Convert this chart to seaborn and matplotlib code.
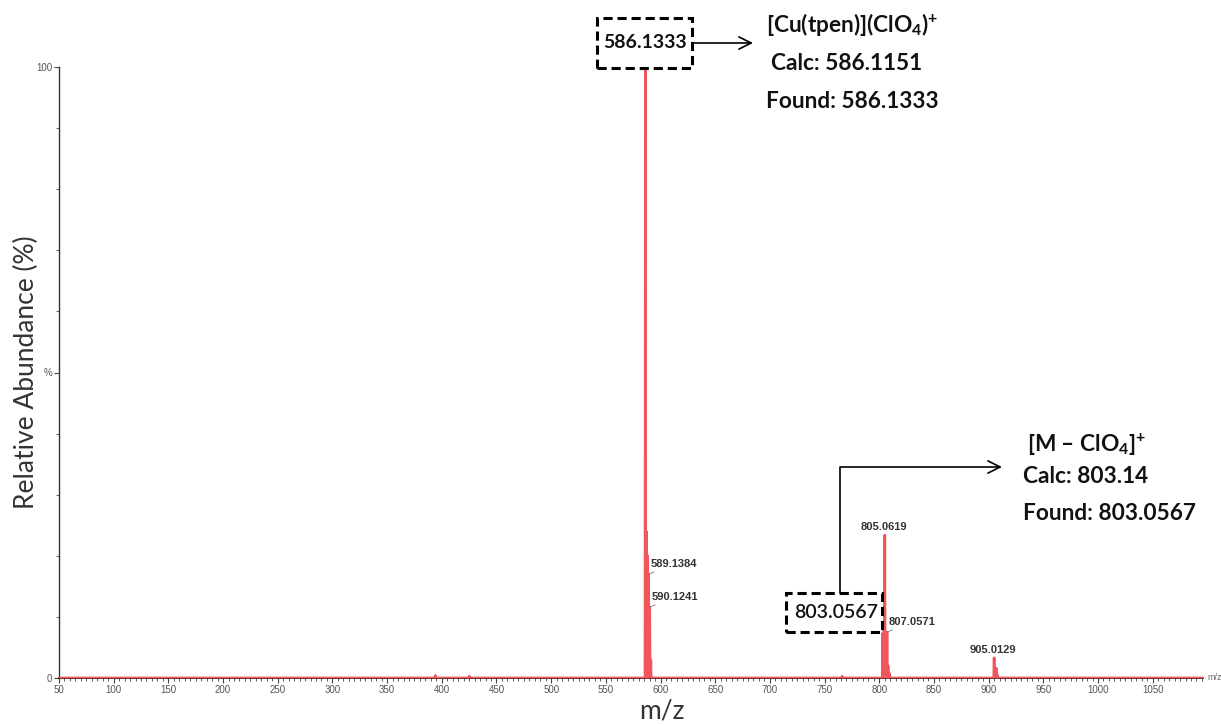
import numpy as np
import pandas as pd
import matplotlib
matplotlib.use("Agg")
import matplotlib.pyplot as plt
import matplotlib.patches as mpatches
import seaborn as sns
from matplotlib.ticker import MultipleLocator

# ---------------- data ----------------
peak_mz = [394.2, 425.1, 586.1333, 587.13, 588.13, 589.1384, 590.1241, 591.12,
           766.0, 803.0567, 804.06, 805.0619, 806.06, 807.0571, 808.06, 809.06,
           905.0129, 906.01, 907.01, 908.0]
peak_int = [0.4, 0.3, 100.0, 24.0, 20.0, 17.0, 11.6, 3.0,
            0.3, 8.0, 5.0, 23.4, 4.0, 7.5, 2.0, 0.8,
            3.3, 1.2, 1.6, 0.5]

# labelled peaks (side labels with leader vs. centred labels)
side_labels = [589.1384, 590.1241, 807.0571]
top_labels = [805.0619, 905.0129]

xticks = [50, 100, 150, 200, 250, 300, 350, 400, 450, 500, 550, 600, 650,
          700, 750, 800, 850, 900, 950, 1000, 1050]
yticks = [0, 50, 100]
ytick_labels = ["0", "%", "100"]
x_range = [50, 1096]

main_peak = "586.1333"
main_ion = "[Cu(tpen)](ClO$_{4}$)$^{+}$"
main_calc = "Calc: 586.1151"
main_found = "Found: 586.1333"
frag_peak = "803.0567"
frag_ion = "[M \u2013 ClO$_{4}$]$^{+}$"
frag_calc = "Calc: 803.14"
frag_found = "Found: 803.0567"

# ---------------- stick profile ----------------
half_w = 0.35
rows = [(x_range[0], 0.0)]
for mz, h in sorted(zip(peak_mz, peak_int)):
    rows += [(mz - half_w, 0.0), (mz, h), (mz + half_w, 0.0)]
rows.append((x_range[1], 0.0))
df = pd.DataFrame(rows, columns=["mz", "abundance"])

# ---------------- style ----------------
sns.set_style("ticks")
plt.rcParams["font.family"] = ["Liberation Sans", "DejaVu Sans"]
plt.rcParams["mathtext.fontset"] = "custom"
plt.rcParams["mathtext.rm"] = "Lato:bold"
plt.rcParams["mathtext.bf"] = "Lato:bold"
plt.rcParams["mathtext.it"] = "Lato:bold"
plt.rcParams["mathtext.default"] = "bf"

W, H = 1221, 725
fig = plt.figure(figsize=(W / 100, H / 100), dpi=100)
ax = fig.add_axes([59 / W, 1 - 678 / H, (1203 - 59) / W, (678 - 67) / H])

sns.lineplot(data=df, x="mz", y="abundance", ax=ax, color="#f0565c",
             lw=1.9, estimator=None, sort=False, zorder=3)

ax.set_xlim(*x_range)
ax.set_ylim(0, 100)
ax.set_xticks(xticks)
ax.xaxis.set_minor_locator(MultipleLocator(5))
ax.set_yticks(yticks)
ax.set_yticklabels(ytick_labels)
ax.yaxis.set_minor_locator(MultipleLocator(10))
ax.tick_params(axis="both", which="major", labelsize=7, labelcolor="#555555",
               color="#444444", length=3.5, width=0.8, pad=1.5)
ax.tick_params(axis="both", which="minor", color="#444444", length=2.2, width=0.6)
for s in ["top", "right"]:
    ax.spines[s].set_visible(False)
ax.spines["left"].set_color("#333333")
ax.spines["left"].set_linewidth(1.0)
ax.spines["bottom"].set_color("#5a1010")
ax.spines["bottom"].set_linewidth(1.2)
ax.set_xlabel("")
ax.set_ylabel("")

fig.text(662 / W, 1 - 711 / H, "m/z", fontsize=19, family="Lato",
         color="#333333", ha="center", va="center")
fig.text(26 / W, 1 - 372 / H, "Relative Abundance (%)", fontsize=19,
         family="Lato", color="#333333", ha="center", va="center",
         rotation=90)
ax.text(1.004, 0, "m/z", transform=ax.transAxes, fontsize=6.5,
        color="#666666", va="center", ha="left", clip_on=False)

# peak labels
lookup = dict(zip(peak_mz, peak_int))
for mz in side_labels:
    ax.annotate(f"{mz:.4f}", xy=(mz, lookup[mz]), xytext=(1.5, 4),
                textcoords="offset points", ha="left", va="bottom",
                fontsize=8, fontweight="bold", color="#333333",
                arrowprops=dict(arrowstyle="-", color="#777777", lw=0.6,
                                shrinkA=0, shrinkB=0))
for mz in top_labels:
    ax.annotate(f"{mz:.4f}", xy=(mz, lookup[mz]), xytext=(-1, 2),
                textcoords="offset points", ha="center", va="bottom",
                fontsize=8, fontweight="bold", color="#333333")


def fx(x):
    return x / W


def fy(y):
    return 1 - y / H


def dashed_box(x0, y0, x1, y1):
    rect = mpatches.Rectangle((fx(x0), fy(y1)), fx(x1) - fx(x0), fy(y0) - fy(y1),
                              transform=fig.transFigure, fill=True,
                              fc="white", ec="black", lw=2.2,
                              ls=(0, (3, 1.6)), zorder=5)
    fig.add_artist(rect)


# main ion annotation
dashed_box(597, 18, 692, 68)
fig.text(fx(645), fy(43), main_peak, ha="center", va="center", fontsize=14,
         fontweight="bold", family="Lato", color="#111111", zorder=6)
ax.annotate("", xy=(753, H - 43), xytext=(692, H - 43), xycoords="figure pixels",
            textcoords="figure pixels",
            arrowprops=dict(arrowstyle="->", lw=1.2, color="black",
                            mutation_scale=22, shrinkA=0, shrinkB=0))
txt_kw = dict(fontsize=16.3, fontweight="bold", family="Lato", color="#111111",
              ha="left", va="baseline")
fig.text(fx(766), fy(32), main_ion, **txt_kw)
fig.text(fx(771), fy(70), main_calc, **txt_kw)
fig.text(fx(766), fy(108), main_found, **txt_kw)

# fragment annotation
dashed_box(786, 593, 882, 632)
fig.text(fx(836), fy(612), frag_peak, ha="center", va="center", fontsize=14,
         fontweight=600, family="Lato", color="#111111", zorder=6)
ax.annotate("", xy=(1002, H - 467), xytext=(840, H - 593),
            xycoords="figure pixels", textcoords="figure pixels",
            arrowprops=dict(arrowstyle="->", lw=1.2, color="black",
                            mutation_scale=22, shrinkA=0, shrinkB=0,
                            connectionstyle="angle,angleA=90,angleB=0,rad=0"))
fig.text(fx(1027), fy(452), frag_ion, **txt_kw)
fig.text(fx(1023), fy(483), frag_calc, **txt_kw)
fig.text(fx(1023), fy(520), frag_found, **txt_kw)

fig.savefig("out.png", dpi=100, facecolor="white")
